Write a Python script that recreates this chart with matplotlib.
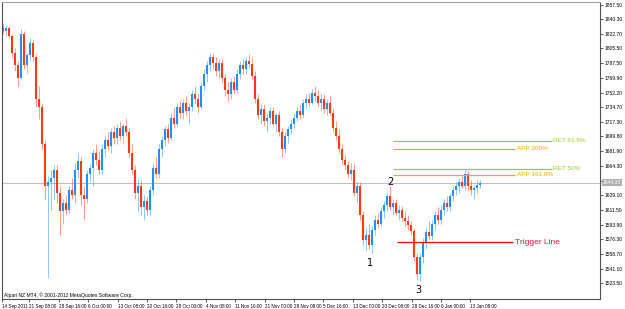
import numpy as np
import matplotlib.pyplot as plt

# bars (price units)
opens = [1830,1826,1830,1820,1800,1785,1770,1822,1785,1797,1812,1795,1745,1735,1690,1640,1645,1650,1660,1632,
         1610,1620,1612,1635,1630,1660,1670,1630,1625,1655,1662,1680,1672,1660,1685,1695,1688,1705,1698,1710,
         1700,1712,1705,1680,1660,1632,1640,1615,1622,1612,1635,1662,1655,1685,1695,1708,1698,1722,1715,1735,
         1728,1740,1730,1735,1750,1745,1735,1760,1775,1785,1795,1788,1778,1788,1770,1755,1750,1765,1755,1775,
         1785,1780,1790,1786,1772,1745,1725,1732,1718,1722,1730,1715,1725,1705,1685,1700,1708,1715,1722,1730,
         1725,1740,1745,1740,1752,1748,1740,1745,1732,1740,1728,1710,1700,1685,1672,1665,1655,1660,1632,1640,
         1605,1575,1582,1570,1588,1600,1595,1610,1618,1628,1615,1620,1608,1612,1602,1598,1594,1586,1555,1535,
         1555,1572,1585,1580,1595,1605,1600,1612,1620,1615,1628,1635,1640,1645,1640,1655,1640,1635,1638,1642]
highs = [1836,1833,1832,1822,1805,1790,1828,1826,1800,1818,1815,1798,1760,1740,1695,1652,1660,1665,1666,1640,
         1625,1630,1640,1650,1668,1680,1675,1640,1660,1668,1685,1690,1682,1690,1700,1705,1710,1712,1715,1718,
         1715,1722,1710,1690,1665,1650,1648,1630,1628,1640,1668,1675,1690,1700,1712,1715,1728,1735,1740,1742,
         1745,1748,1740,1755,1760,1752,1765,1780,1790,1800,1800,1795,1792,1792,1775,1765,1770,1772,1780,1790,
         1792,1795,1798,1795,1778,1750,1738,1738,1728,1735,1735,1728,1730,1710,1705,1712,1720,1728,1735,1738,
         1745,1750,1752,1757,1760,1755,1752,1750,1745,1748,1732,1718,1708,1690,1678,1670,1668,1668,1645,1645,
         1610,1590,1595,1592,1605,1608,1615,1622,1632,1640,1625,1625,1618,1616,1610,1606,1598,1590,1560,1560,
         1578,1590,1598,1600,1610,1615,1618,1625,1628,1632,1640,1645,1650,1652,1660,1658,1648,1642,1648,1648]
lows = [1822,1820,1818,1795,1778,1760,1768,1780,1776,1790,1790,1735,1720,1685,1625,1530,1612,1625,1620,1580,
        1595,1605,1608,1625,1620,1650,1618,1600,1620,1645,1640,1665,1655,1655,1675,1683,1680,1690,1690,1695,
        1690,1700,1675,1655,1625,1610,1605,1600,1605,1605,1630,1650,1650,1675,1688,1692,1695,1710,1712,1722,
        1720,1725,1715,1730,1738,1728,1732,1755,1765,1778,1780,1772,1770,1765,1748,1742,1745,1750,1752,1768,
        1775,1775,1782,1768,1740,1720,1715,1712,1705,1715,1712,1705,1700,1675,1680,1692,1702,1710,1718,1720,
        1722,1732,1735,1738,1742,1735,1730,1728,1725,1725,1705,1695,1680,1665,1660,1650,1648,1628,1620,1600,
        1570,1562,1565,1560,1582,1590,1592,1602,1610,1612,1605,1605,1600,1598,1592,1588,1582,1550,1528,1527,
        1548,1565,1575,1575,1588,1595,1595,1605,1610,1610,1622,1630,1632,1638,1636,1635,1630,1625,1632,1638]
closes = [1826,1830,1820,1800,1785,1770,1822,1785,1797,1812,1795,1745,1735,1690,1640,1645,1650,1660,1632,1610,
          1620,1612,1635,1630,1660,1670,1630,1625,1655,1662,1680,1672,1660,1685,1695,1688,1705,1698,1710,1700,
          1712,1705,1680,1660,1632,1640,1615,1622,1612,1635,1662,1655,1685,1695,1708,1698,1722,1715,1735,1728,
          1740,1730,1735,1750,1745,1735,1760,1775,1785,1795,1788,1778,1788,1770,1755,1750,1765,1755,1775,1785,
          1780,1790,1786,1772,1745,1725,1732,1718,1722,1730,1715,1725,1705,1685,1700,1708,1715,1722,1730,1725,
          1740,1745,1740,1752,1748,1740,1745,1732,1740,1728,1710,1700,1685,1672,1665,1655,1660,1632,1640,1605,
          1575,1582,1570,1588,1600,1595,1610,1618,1628,1615,1620,1608,1612,1602,1598,1594,1586,1555,1535,1555,
          1572,1585,1580,1595,1605,1600,1612,1620,1615,1628,1635,1640,1645,1640,1655,1640,1635,1638,1642,1644]

price_labels = ["1857.50","1840.30","1822.70","1805.50","1787.50","1769.90","1752.20","1734.70","1717.30","1699.80",
                "1681.90","1664.30","1646.70","1629.10","1611.50","1593.90","1576.30","1558.70","1541.10","1523.50"]
date_labels = ["14 Sep 2011","21 Sep 08:00","28 Sep 16:00","6 Oct 00:00","13 Oct 08:00","20 Oct 16:00",
               "28 Oct 00:00","4 Nov 08:00","11 Nov 16:00","21 Nov 00:00","28 Nov 08:00","5 Dec 16:00",
               "13 Dec 00:00","20 Dec 08:00","28 Dec 16:00","6 Jan 00:00","13 Jan 08:00"]
date_pos = [-0.3,8.8,18.6,28.4,38.2,48,57.8,67.6,77.4,87.2,97,106.8,116.6,126.4,136.2,146,155.8]

# fibo levels: name, price, x end, colour
fib_names = ["RET 61.8%","APP 200%","RET 50%","APP 161.8%"]
fib_prices = [1694.2,1684.6,1660.7,1653.5]
fib_end = [183,170.7,183,170.7]
fib_colors = ["#9acd32","#ffa500","#9acd32","#ffa500"]
trigger_price = 1572.6
last_price = 1644.1

small = ["Liberation Sans Narrow", "Liberation Sans", "DejaVu Sans"]

fig = plt.figure(figsize=(6.25,3.09), dpi=100)
ax = fig.add_axes([2/625, 10/309, 598/625, 297/309])

x = np.arange(len(closes))
o = np.array(opens); h = np.array(highs); l = np.array(lows); c = np.array(closes)
up = c >= o
col = np.where(up, "#1e90ff", "#ff3a10")

#тени и тела свечей
ax.vlines(x, l, h, colors=col, linewidth=0.7, alpha=0.5)
ax.vlines(x, np.minimum(o,c), np.maximum(o,c), colors=col, linewidth=1.5)

# текущая цена
ax.axhline(last_price, color="#c0c0c0", linewidth=0.8, zorder=0)

# уровни фибо
for name, p, xe, cl in zip(fib_names, fib_prices, fib_end, fib_colors):
    ax.hlines(p, 130, xe, color=cl, linewidth=0.9)
    ax.text(xe+0.5, p, name, color=cl, fontsize=4.6, va="center", ha="left", family=small)

ax.hlines(trigger_price, 131.3, 170, color="#ff0000", linewidth=0.9)
ax.text(170.7, trigger_price, "Trigger Line", color="#e8103a", fontsize=6, va="center", ha="left",
        family=["Liberation Sans", "DejaVu Sans"])

# метки волн
ax.text(122.3, 1548.5, "1", fontsize=7, ha="center", va="center")
ax.text(129, 1645, "2", fontsize=7, ha="center", va="center")
ax.text(138.3, 1515.5, "3", fontsize=7, ha="center", va="center")

ax.text(0.3, 1509.5, "Alpari NZ MT4, \u00a9 2001-2012 MetaQuotes Software Corp.", fontsize=3.6, va="center",
        family=small)

ax.set_xlim(-0.33, 199)
ax.set_ylim(1504.9, 1860.7)

ax.yaxis.tick_right()
ax.set_yticks([float(s) for s in price_labels])
ax.set_yticklabels(price_labels, fontsize=3.6, family=["Liberation Sans", "DejaVu Sans"])
ax.set_xticks(date_pos)
ax.set_xticklabels(date_labels, fontsize=3.3, ha="left", family=small)
ax.tick_params(length=2.5, width=0.6, pad=1, color="#404040")

for s in ax.spines.values():
    s.set_color("#505050")
    s.set_linewidth(0.8)
ax.spines["top"].set_color("#a0a0a0")

# ценник справа
ax.text(1.005, (last_price-1504.9)/(1860.7-1504.9), "%.2f" % last_price, transform=ax.transAxes,
        fontsize=3.6, color="white", va="center", ha="left", zorder=10, clip_on=False,
        family=["Liberation Sans", "DejaVu Sans"],
        bbox=dict(boxstyle="square,pad=0.2", fc="#b0b0b0", ec="none"))

fig.savefig("out.png", dpi=100)
